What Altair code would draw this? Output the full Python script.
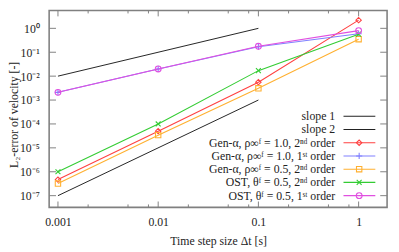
import altair as alt
import pandas as pd

# ---------------- data ----------------
dt = [0.001, 0.01, 0.1, 1.0]
gen_rho10_2nd = [4.7e-7, 5.0e-5, 5.6e-3, 2.2]
gen_rho10_1st = [2.1e-3, 2.0e-2, 0.17, 0.59]
gen_rho05_2nd = [3.2e-7, 3.4e-5, 3.1e-3, 0.35]
ost_2nd = [1.0e-6, 1.0e-4, 0.017, 0.57]
ost_1st = [2.1e-3, 2.0e-2, 0.178, 0.80]

slope_x = [0.001, 0.1]
slope1_y = [0.01, 1.0]
slope2_y = [1e-7, 1e-3]

x_major = [0.001, 0.01, 0.1, 1.0]
x_minor = [0.002, 0.005, 0.008, 0.02, 0.05, 0.08, 0.2, 0.5, 0.8]
y_major = [1e-7, 1e-6, 1e-5, 1e-4, 1e-3, 1e-2, 1e-1, 1e0]
y_labels = ["10⁻⁷", "10⁻⁶", "10⁻⁵", "10⁻⁴", "10⁻³", "10⁻²", "10⁻¹", "10⁰"]

legend_labels = [
    "slope 1",
    "slope 2",
    "Gen-α, ρ∞ᶠ = 1.0, 2ⁿᵈ order",
    "Gen-α, ρ∞ᶠ = 1.0, 1ˢᵗ order",
    "Gen-α, ρ∞ᶠ = 0.5, 2ⁿᵈ order",
    "OST, θᶠ = 0.5, 2ⁿᵈ order",
    "OST, θᶠ = 0.5, 1ˢᵗ order",
]

# ---------------- styling ----------------
W, H = 345, 201
FONT = "Liberation Serif"
FRAME = "#808080"
BLACK = "#222222"
PLUS = "M-1,0L1,0M0,-1L0,1"
XSHAPE = "M-1,-1L1,1M-1,1L1,-1"

series = [
    (gen_rho10_2nd, "#ff4040", "diamond", 30),
    (gen_rho10_1st, "#8080ff", PLUS, 40),
    (gen_rho05_2nd, "#ffb030", "square", 30),
    (ost_2nd, "#33cc33", XSHAPE, 25),
    (ost_1st, "#e050e0", "circle", 35),
]

xscale = alt.Scale(type="log", domain=[10 ** -3.088, 10 ** 0.284], nice=False)
yscale = alt.Scale(type="log", domain=[10 ** -7.49, 10 ** 0.746], nice=False)

label_expr = "[" + ",".join("'%s'" % s for s in y_labels) + "][round(log(datum.value)/LN10)+7]"

x_axis = alt.Axis(values=x_major, format="~g", ticks=False, domain=False, grid=False,
                  labelFont=FONT, labelFontSize=12, labelColor="#222", labelPadding=9,
                  title="Time step size Δt [s]", titleFont=FONT, titleFontSize=12,
                  titleFontWeight="normal", titleColor="#222", titlePadding=9)
y_axis = alt.Axis(values=y_major, labelExpr=label_expr, ticks=False, domain=False, grid=False,
                  labelFont=FONT, labelFontSize=12, labelColor="#222", labelPadding=10,
                  title="L₂-error of velocity [-]", titleFont=FONT, titleFontSize=12,
                  titleFontWeight="normal", titleColor="#222", titleAngle=270,
                  titleX=-36, titleY=106, titleAlign="center", titleBaseline="middle")

layers = []

# axis anchor layer (invisible) carrying the axes
base_df = pd.DataFrame({"x": dt, "y": ost_1st})
layers.append(
    alt.Chart(base_df).mark_point(opacity=0).encode(
        x=alt.X("x:Q", scale=xscale, axis=x_axis),
        y=alt.Y("y:Q", scale=yscale, axis=y_axis),
    )
)

# inward ticks
xmaj = pd.DataFrame({"v": x_major})
xmin = pd.DataFrame({"v": x_minor})
ymaj = pd.DataFrame({"v": y_major})
for df, ln in [(xmaj, 6), (xmin, 3)]:
    layers.append(alt.Chart(df).mark_rule(color=FRAME, strokeWidth=1).encode(
        x=alt.X("v:Q", scale=xscale), y=alt.value(H), y2=alt.value(H - ln)))
    layers.append(alt.Chart(df).mark_rule(color=FRAME, strokeWidth=1).encode(
        x=alt.X("v:Q", scale=xscale), y=alt.value(0), y2=alt.value(ln)))
layers.append(alt.Chart(ymaj).mark_rule(color=FRAME, strokeWidth=1).encode(
    y=alt.Y("v:Q", scale=yscale), x=alt.value(0), x2=alt.value(7)))
layers.append(alt.Chart(ymaj).mark_rule(color=FRAME, strokeWidth=1).encode(
    y=alt.Y("v:Q", scale=yscale), x=alt.value(W), x2=alt.value(W - 7)))

# slope lines
for ys in (slope1_y, slope2_y):
    df = pd.DataFrame({"x": slope_x, "y": ys})
    layers.append(alt.Chart(df).mark_line(color=BLACK, strokeWidth=1).encode(
        x=alt.X("x:Q", scale=xscale), y=alt.Y("y:Q", scale=yscale)))

# data series
for ys, col, shape, size in series:
    df = pd.DataFrame({"x": dt, "y": ys})
    layers.append(alt.Chart(df).mark_line(color=col, strokeWidth=1.1).encode(
        x=alt.X("x:Q", scale=xscale), y=alt.Y("y:Q", scale=yscale)))
    layers.append(alt.Chart(df).mark_point(color=col, shape=shape, size=size, filled=False,
                                           strokeWidth=1.1, opacity=1).encode(
        x=alt.X("x:Q", scale=xscale), y=alt.Y("y:Q", scale=yscale)))

# manual legend (label left, sample right)
one = pd.DataFrame({"a": [0]})
row0, step = 108, 13.5
tx, lx1, lx2, mx = 292, 300.5, 333, 316.5
legend_styles = [(BLACK, None, 0), (BLACK, None, 0)] + [(c, s, z) for _, c, s, z in series]
for i, (lab, (col, shape, size)) in enumerate(zip(legend_labels, legend_styles)):
    yy = row0 + i * step
    layers.append(alt.Chart(one).mark_text(align="right", baseline="middle", font=FONT,
                                           fontSize=12, color="#222").encode(
        x=alt.value(tx), y=alt.value(yy), text=alt.value(lab)))
    layers.append(alt.Chart(one).mark_rule(color=col, strokeWidth=1.1).encode(
        x=alt.value(lx1), x2=alt.value(lx2), y=alt.value(yy)))
    if shape:
        layers.append(alt.Chart(one).mark_point(color=col, shape=shape, size=size, filled=False,
                                               strokeWidth=1.1, opacity=1).encode(
            x=alt.value(mx), y=alt.value(yy)))

chart = alt.layer(*layers).properties(
    width=W, height=H,
    autosize=alt.AutoSizeParams(type="none"),
    padding={"left": 42, "top": 0, "right": 4, "bottom": 43},
).configure_view(stroke=FRAME, strokeWidth=1.6)

chart.save("out.html", embed_options={"renderer": "svg", "actions": False})
